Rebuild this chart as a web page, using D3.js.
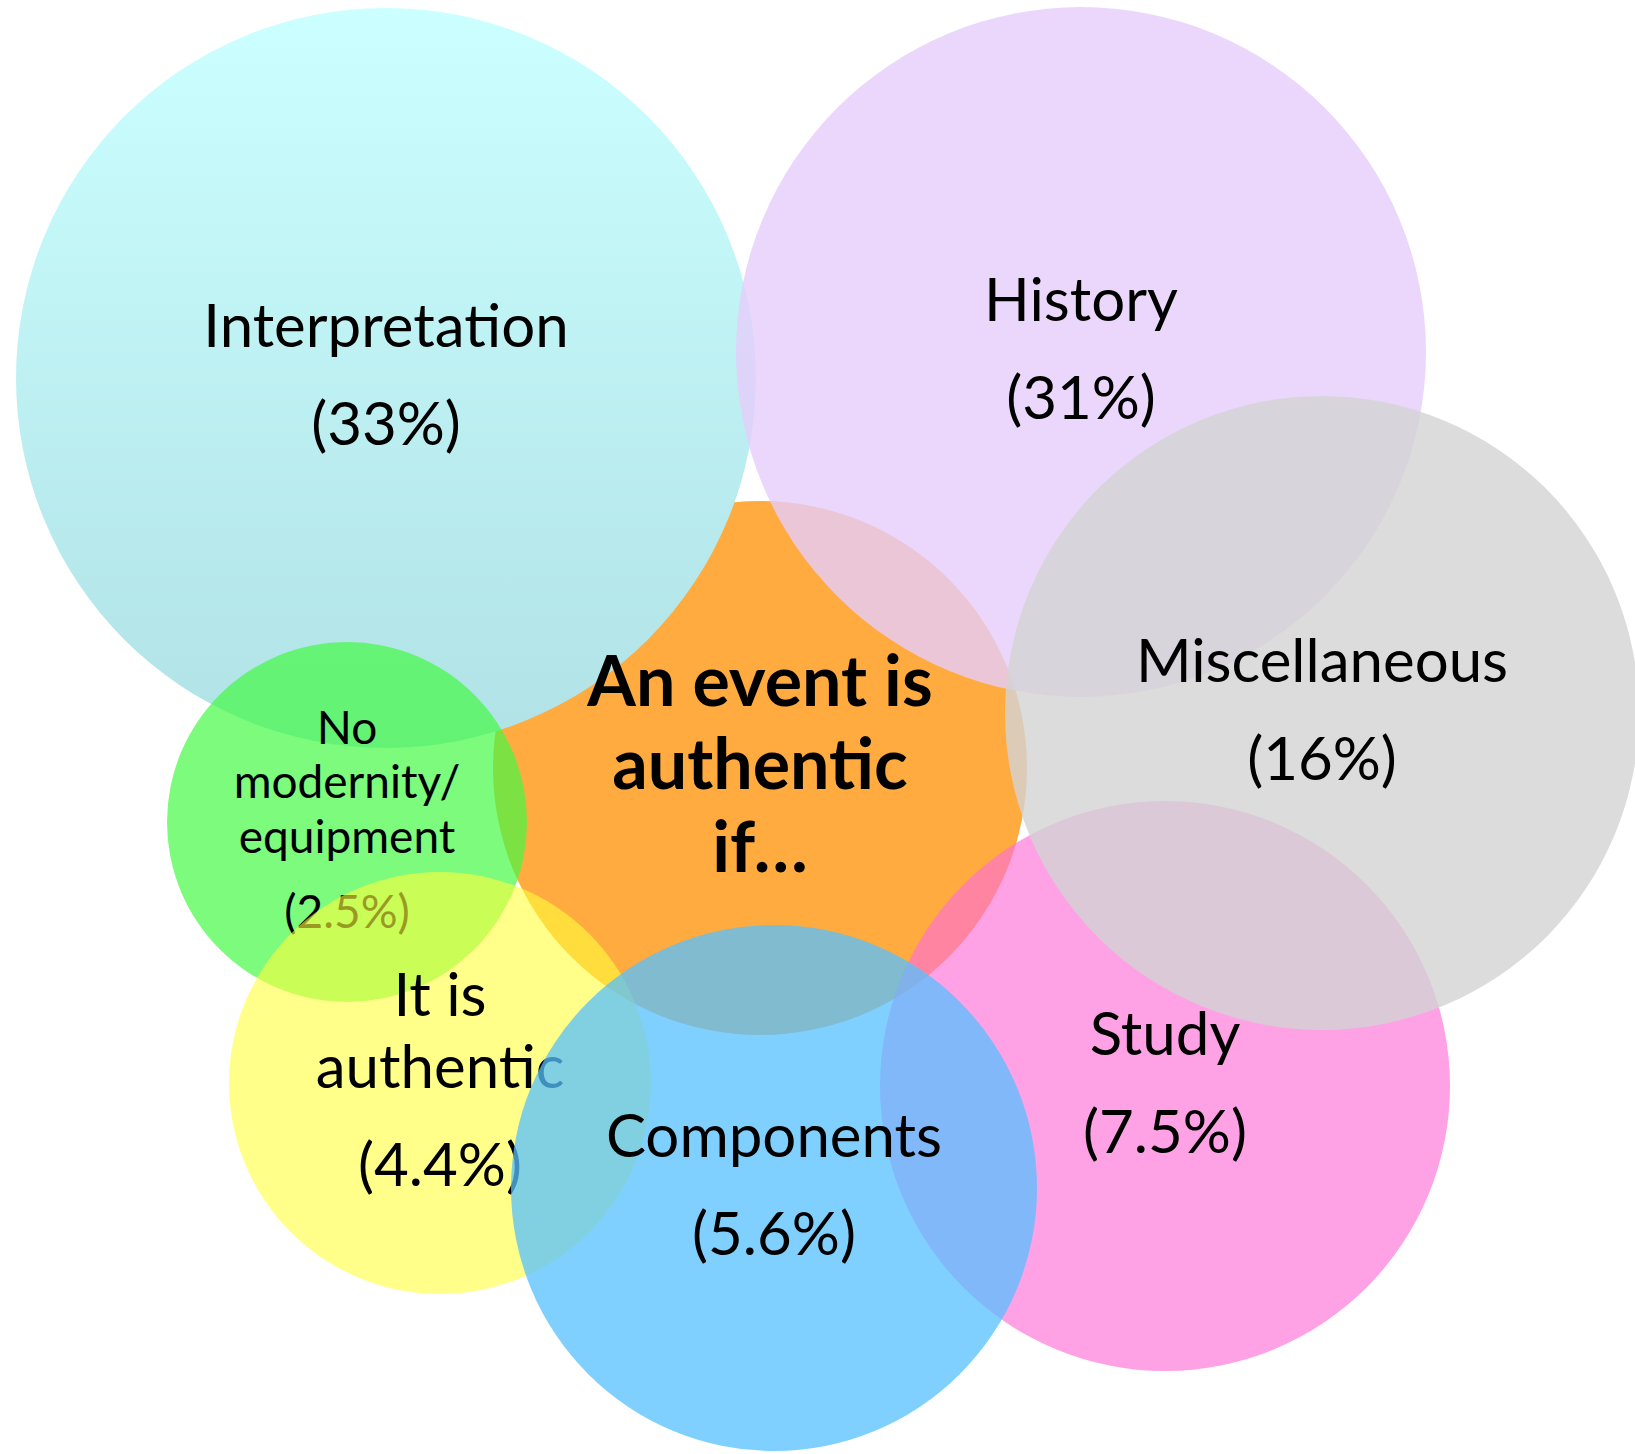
<!DOCTYPE html>
<html>
<head>
<meta charset="utf-8">
<title>An event is authentic if…</title>
<script src="https://cdn.jsdelivr.net/npm/d3@7"></script>
<style>
  html, body { margin: 0; padding: 0; background: #ffffff; }
  svg { display: block; }
  text { font-family: Lato, "Open Sans", "Noto Sans", sans-serif; fill: #000; }
</style>
</head>
<body>
<script>
// Survey answers: what makes an event authentic (share of responses, %)
const categories = [
  "Interpretation",
  "History",
  "Miscellaneous",
  "Study",
  "Components",
  "It is\nauthentic",
  "No\nmodernity/\nequipment"
];
const shares = [33, 31, 16, 7.5, 5.6, 4.4, 2.5];
const centerTitle = "An event is\nauthentic\nif…";

// Bubble placement, size and fill for each answer (drawing layout)
const layout = {
  "Interpretation":          { cx: 386,  cy: 378,  r: 370, fill: "url(#cyanFade)", opacity: 1,    size: 60 },
  "History":                 { cx: 1081, cy: 352,  r: 345, fill: "#e6cdfb",        opacity: 0.8,  size: 60 },
  "Miscellaneous":           { cx: 1322, cy: 713,  r: 317, fill: "#d3d3d3",        opacity: 0.8,  size: 60 },
  "Study":                   { cx: 1165, cy: 1086, r: 285, fill: "#ff6ed7",        opacity: 0.65, size: 60 },
  "Components":              { cx: 774,  cy: 1188, r: 263, fill: "#55c0ff",        opacity: 0.75, size: 60 },
  "It is\nauthentic":        { cx: 440,  cy: 1083, r: 211, fill: "#ffff3c",        opacity: 0.6,  size: 60 },
  "No\nmodernity/\nequipment":{ cx: 347, cy: 822,  r: 180, fill: "#45fa45",        opacity: 0.7,  size: 46 }
};
const centerLayout = { cx: 760, cy: 768, r: 267, fill: "#ffab40", size: 70 };

const W = 1635, H = 1454;
const svg = d3.select("body").append("svg")
  .attr("width", W).attr("height", H)
  .attr("viewBox", `0 0 ${W} ${H}`);

const defs = svg.append("defs");
const grad = defs.append("linearGradient")
  .attr("id", "cyanFade").attr("x1", 0).attr("y1", 0).attr("x2", 0).attr("y2", 1);
grad.append("stop").attr("offset", 0).attr("stop-color", "#ccffff");
grad.append("stop").attr("offset", 1).attr("stop-color", "#b0e2e6");

const items = categories.map((name, i) => ({ name, share: shares[i], ...layout[name] }));
const byName = new Map(items.map(d => [d.name, d]));

const pct = v => `(${v}%)`;

// Stack of text lines centred on a bubble: name lines, then the share
function drawLabel(g, d, lines, shareText, weight) {
  const fs = d.size;
  const lineGap = 1.19 * fs;
  const shareGap = 1.63 * fs;
  const offs = [];
  let y = 0;
  lines.forEach((l, i) => { if (i > 0) y += lineGap; offs.push(y); });
  if (shareText != null) { y += shareGap; offs.push(y); }
  const all = shareText != null ? lines.concat([shareText]) : lines;
  const mid = (offs[0] + offs[offs.length - 1]) / 2;
  g.selectAll(null).data(all).join("text")
    .attr("x", d.cx)
    .attr("y", (t, i) => d.cy + 0.3 * fs - mid + offs[i])
    .attr("text-anchor", "middle")
    .attr("font-size", fs)
    .attr("font-weight", weight || 400)
    .text(t => t);
}

function drawBubble(g, d) {
  g.append("circle")
    .attr("cx", d.cx).attr("cy", d.cy).attr("r", d.r)
    .attr("fill", d.fill)
    .attr("fill-opacity", d.opacity);
}

// Central theme bubble sits underneath everything
drawBubble(svg.append("g"), { ...centerLayout, opacity: 1 });

// Large answers, then their labels above them
const backNames = ["Interpretation", "History", "Study", "Miscellaneous"];
const back = svg.append("g");
backNames.forEach(n => drawBubble(back, byName.get(n)));
const backLabels = svg.append("g");
backNames.forEach(n => {
  const d = byName.get(n);
  drawLabel(backLabels, d, d.name.split("\n"), pct(d.share));
});

// Smaller answers, each drawn with its own label
["No\nmodernity/\nequipment", "It is\nauthentic", "Components"].forEach(n => {
  const d = byName.get(n);
  const g = svg.append("g");
  drawBubble(g, d);
  drawLabel(g, d, d.name.split("\n"), pct(d.share));
});

// Theme question on top
drawLabel(svg.append("g"), centerLayout, centerTitle.split("\n"), null, 700);
</script>
</body>
</html>
